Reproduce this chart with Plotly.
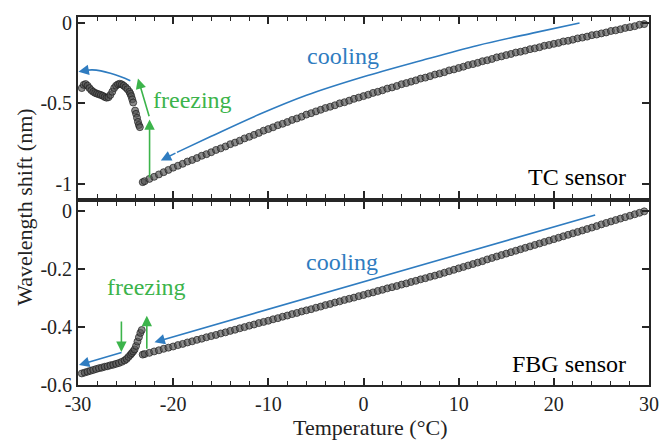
import plotly.graph_objects as go

# ---------------- data ----------------
top_cool_T = [-23.2, -23.0, -22.5, -22.0, -21.5, -21.0, -20.5, -20.0, -19.5, -19.0, -18.5, -18.0, -17.5, -17.0,
              -16.5, -16.0, -15.5, -15.0, -14.5, -14.0, -13.5, -13.0, -12.5, -12.0, -11.5, -11.0, -10.5, -10.0,
              -9.5, -9.0, -8.5, -8.0, -7.5, -7.0, -6.5, -6.0, -5.5, -5.0, -4.5, -4.0, -3.5, -3.0, -2.5, -2.0,
              -1.5, -1.0, -0.5, 0.0, 0.5, 1.0, 1.5, 2.0, 2.5, 3.0, 3.5, 4.0, 4.5, 5.0, 5.5, 6.0, 6.5, 7.0, 7.5,
              8.0, 8.5, 9.0, 9.5, 10.0, 10.5, 11.0, 11.5, 12.0, 12.5, 13.0, 13.5, 14.0, 14.5, 15.0, 15.5, 16.0,
              16.5, 17.0, 17.5, 18.0, 18.5, 19.0, 19.5, 20.0, 20.5, 21.0, 21.5, 22.0, 22.5, 23.0, 23.5, 24.0,
              24.5, 25.0, 25.5, 26.0, 26.5, 27.0, 27.5, 28.0, 28.5, 29.0, 29.5]
top_cool_shift = [-0.990, -0.984, -0.970, -0.957, -0.942, -0.928, -0.914, -0.900,
                  -0.888, -0.876, -0.862, -0.852, -0.840, -0.826, -0.816, -0.804, -0.790, -0.780,
                  -0.768, -0.754, -0.744, -0.732, -0.718, -0.708, -0.696, -0.684, -0.670, -0.660,
                  -0.649, -0.636, -0.627, -0.616, -0.603, -0.594, -0.583, -0.570, -0.561, -0.550,
                  -0.540, -0.529, -0.521, -0.512, -0.500, -0.493, -0.483, -0.472, -0.464, -0.455,
                  -0.446, -0.435, -0.428, -0.419, -0.408, -0.401, -0.392, -0.381, -0.374, -0.365,
                  -0.357, -0.346, -0.340, -0.331, -0.321, -0.314, -0.306, -0.295, -0.289, -0.280,
                  -0.272, -0.262, -0.256, -0.248, -0.238, -0.232, -0.224, -0.214, -0.208, -0.200,
                  -0.193, -0.184, -0.179, -0.172, -0.163, -0.158, -0.151, -0.142, -0.137, -0.130,
                  -0.124, -0.115, -0.111, -0.104, -0.096, -0.091, -0.085, -0.076, -0.072, -0.065,
                  -0.059, -0.050, -0.046, -0.039, -0.031, -0.026, -0.020, -0.011, -0.007]

top_freeze_T = [-29.6, -29.4, -29.2, -29.0, -28.8, -28.6, -28.4, -28.2, -28.0, -27.8, -27.6, -27.4, -27.2,
                -27.0, -26.8, -26.6, -26.4, -26.2, -26.0, -25.8, -25.6, -25.4, -25.2, -25.0, -24.8, -24.6,
                -24.5, -24.4, -24.3, -24.2, -24.0, -23.9, -23.8, -23.7, -23.6, -23.5]
top_freeze_shift = [-0.405, -0.385, -0.380, -0.390, -0.405, -0.418, -0.428, -0.435, -0.440, -0.444,
                    -0.448, -0.453, -0.460, -0.465, -0.462, -0.448, -0.428, -0.405, -0.390, -0.382,
                    -0.378, -0.382, -0.390, -0.400, -0.412, -0.428, -0.440, -0.455, -0.475, -0.495,
                    -0.545, -0.565, -0.590, -0.615, -0.635, -0.648]

bot_cool_T = top_cool_T
bot_cool_shift = [-0.495, -0.493, -0.489, -0.484, -0.480, -0.475, -0.471, -0.467,
                  -0.462, -0.458, -0.453, -0.449, -0.444, -0.440, -0.435, -0.431, -0.427, -0.422,
                  -0.418, -0.413, -0.409, -0.404, -0.400, -0.395, -0.391, -0.386, -0.382, -0.378,
                  -0.373, -0.369, -0.364, -0.360, -0.355, -0.351, -0.346, -0.342, -0.338, -0.333,
                  -0.329, -0.324, -0.320, -0.315, -0.311, -0.306, -0.302, -0.298, -0.293, -0.289,
                  -0.284, -0.280, -0.275, -0.271, -0.266, -0.262, -0.258, -0.253, -0.249, -0.244,
                  -0.240, -0.235, -0.231, -0.226, -0.222, -0.217, -0.212, -0.207, -0.202, -0.197,
                  -0.192, -0.187, -0.182, -0.177, -0.172, -0.166, -0.161, -0.156, -0.151, -0.146,
                  -0.141, -0.136, -0.131, -0.126, -0.121, -0.116, -0.111, -0.106, -0.101, -0.096,
                  -0.091, -0.086, -0.081, -0.076, -0.071, -0.066, -0.061, -0.056, -0.051, -0.045,
                  -0.040, -0.035, -0.030, -0.025, -0.020, -0.015, -0.010, -0.005, 0.000]

bot_freeze_T = [-29.6, -29.3, -29.0, -28.7, -28.4, -28.1, -27.8, -27.5, -27.2, -26.9, -26.6, -26.3, -26.0,
                -25.7, -25.4, -25.1, -24.9, -24.7, -24.5, -24.35, -24.2, -24.05, -23.9, -23.75, -23.6,
                -23.45, -23.3]
bot_freeze_shift = [-0.560, -0.557, -0.554, -0.551, -0.548, -0.545, -0.542, -0.540, -0.537, -0.535,
                    -0.532, -0.530, -0.527, -0.524, -0.520, -0.515, -0.510, -0.503, -0.496, -0.490,
                    -0.484, -0.477, -0.465, -0.450, -0.435, -0.420, -0.410]

# annotation guide curves (data units)
top_cool_arrow_T = [22.7, 18.0, 12.0, 6.0, 0.0, -6.0, -11.0, -16.0, -19.6]
top_cool_arrow_y = [0.0, -0.06, -0.14, -0.235, -0.335, -0.45, -0.57, -0.705, -0.805]
top_back_arrow_T = [-24.5, -25.5, -26.6, -27.6, -28.5, -29.1]
top_back_arrow_y = [-0.359, -0.335, -0.313, -0.298, -0.292, -0.294]

x_tick_vals = [-30, -20, -10, 0, 10, 20, 30]
x_tick_text = ["-30", "-20", "-10", "0", "10", "20", "30"]
x_minor_vals = [-28, -26, -24, -22, -18, -16, -14, -12, -8, -6, -4, -2, 2, 4, 6, 8, 12, 14, 16, 18, 22, 24, 26, 28]
top_y_vals = [0, -0.5, -1]
top_y_text = ["0", "-0.5", "-1"]
bot_y_vals = [0, -0.2, -0.4, -0.6]
bot_y_text = ["0", "-0.2", "-0.4", "-0.6"]

# ---------------- styles ----------------
FONT = "Liberation Serif"
AX = "#262626"
BLUE = "#2f7cc0"
GREEN = "#3cb44b"
marker = dict(size=7, color="rgba(80,80,80,0.65)", line=dict(color="rgba(30,30,30,0.7)", width=1))

fig = go.Figure()
for xs, ys, xa, ya in [(top_cool_T, top_cool_shift, "x", "y"), (top_freeze_T, top_freeze_shift, "x", "y"),
                       (bot_cool_T, bot_cool_shift, "x2", "y2"), (bot_freeze_T, bot_freeze_shift, "x2", "y2")]:
    fig.add_trace(go.Scatter(x=xs, y=ys, mode="markers", marker=marker, xaxis=xa, yaxis=ya,
                             showlegend=False, hoverinfo="skip"))

# curved guide lines
fig.add_trace(go.Scatter(x=top_cool_arrow_T, y=top_cool_arrow_y, mode="lines", line=dict(color=BLUE, width=1.6, shape="spline"),
                         xaxis="x", yaxis="y", showlegend=False, hoverinfo="skip"))
fig.add_trace(go.Scatter(x=top_back_arrow_T, y=top_back_arrow_y, mode="lines", line=dict(color=BLUE, width=1.6, shape="spline"),
                         xaxis="x", yaxis="y", showlegend=False, hoverinfo="skip"))

ann = []


def arrow(xr, yr, x0, y0, x1, y1, color):
    ann.append(dict(xref=xr, yref=yr, axref=xr, ayref=yr, x=x1, y=y1, ax=x0, ay=y0, text="",
                    showarrow=True, arrowhead=2, arrowsize=1.3, arrowwidth=1.6, arrowcolor=color, standoff=0,
                    startstandoff=0))


# top panel arrows
arrow("x", "y", -19.6, -0.805, -21.3, -0.855, BLUE)
arrow("x", "y", -29.1, -0.294, -29.95, -0.303, BLUE)
arrow("x", "y", -22.48, -0.970, -22.48, -0.600, GREEN)
arrow("x", "y", -22.48, -0.590, -23.7, -0.345, GREEN)
# bottom panel arrows
arrow("x2", "y2", 24.5, -0.011, -21.96, -0.452, BLUE)
arrow("x2", "y2", -25.27, -0.486, -29.9, -0.531, BLUE)
arrow("x2", "y2", -25.44, -0.375, -25.44, -0.486, GREEN)
arrow("x2", "y2", -22.77, -0.480, -22.77, -0.361, GREEN)


def label(xr, yr, x, y, text, color, size, xanchor="center"):
    ann.append(dict(xref=xr, yref=yr, x=x, y=y, text=text, showarrow=False, xanchor=xanchor, yanchor="middle",
                    font=dict(family=FONT, size=size, color=color)))


label("x", "y", -2.2, -0.205, "cooling", BLUE, 24)
label("x", "y", -18.0, -0.48, "freezing", GREEN, 24)
label("x", "y", 27.8, -0.96, "TC sensor", "black", 24, "right")
label("x2", "y2", -2.3, -0.175, "cooling", BLUE, 24)
label("x2", "y2", -22.85, -0.262, "freezing", GREEN, 24)
label("x2", "y2", 27.8, -0.528, "FBG sensor", "black", 24, "right")

# axis titles
ann.append(dict(xref="paper", yref="paper", x=-0.093, y=0.484, text="Wavelength shift (nm)", textangle=-90,
                showarrow=False, xanchor="center", yanchor="middle", font=dict(family=FONT, size=22, color="#222")))
ann.append(dict(xref="paper", yref="paper", x=0.511, y=-0.1156, text="Temperature (°C)",
                showarrow=False, xanchor="center", yanchor="middle", font=dict(family=FONT, size=22, color="#222")))

common_x = dict(range=[-30, 30], tickmode="array", tickvals=x_tick_vals, ticktext=x_tick_text,
                ticks="inside", ticklen=7, tickwidth=1.5, tickcolor=AX, showline=True, linecolor=AX, linewidth=1.8,
                mirror="ticks", showgrid=False, zeroline=False,
                minor=dict(tickmode="array", tickvals=x_minor_vals, ticks="inside", ticklen=4, tickwidth=1.3,
                           tickcolor=AX, showgrid=False),
                tickfont=dict(family=FONT, size=20, color="#222"))
common_y = dict(tickmode="array", ticks="inside", ticklen=7, tickwidth=1.5, tickcolor=AX, showline=True,
                linecolor=AX, linewidth=1.8, mirror="ticks", showgrid=False, zeroline=False,
                tickfont=dict(family=FONT, size=20, color="#222"))

fig.update_layout(
    width=671, height=442,
    margin=dict(l=78, r=18, t=13, b=57),
    paper_bgcolor="white", plot_bgcolor="white",
    font=dict(family=FONT),
    xaxis=dict(common_x, anchor="y", showticklabels=False, matches="x2"),
    xaxis2=dict(common_x, anchor="y2", showticklabels=True),
    yaxis=dict(common_y, domain=[0.508, 1.0], range=[-1.089, 0.037], tickvals=top_y_vals, ticktext=top_y_text, anchor="x"),
    yaxis2=dict(common_y, domain=[0.0, 0.497], range=[-0.6, 0.032], tickvals=bot_y_vals, ticktext=bot_y_text, anchor="x2"),
    annotations=ann,
)

fig.write_html("out.html")
